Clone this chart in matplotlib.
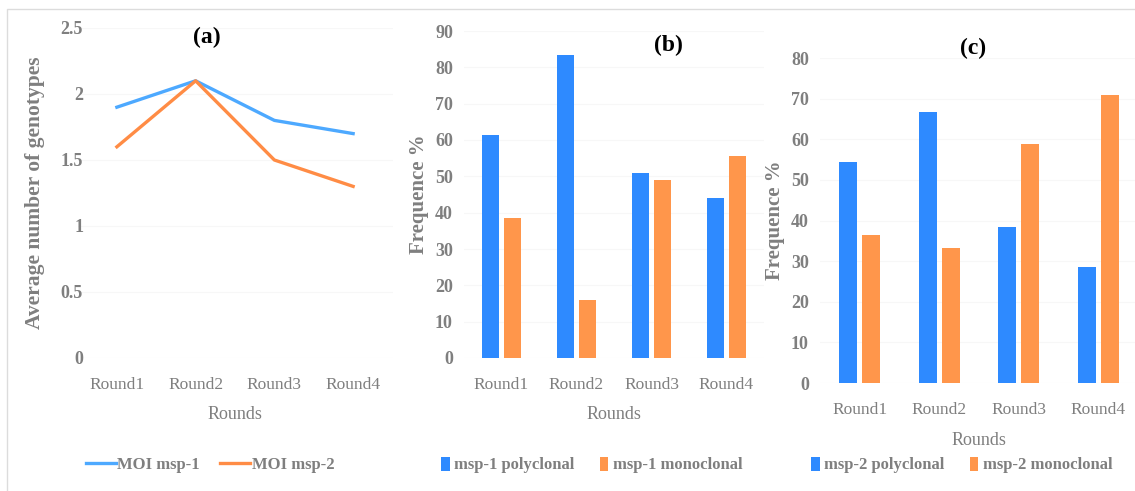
import matplotlib
matplotlib.use("Agg")
from matplotlib import pyplot as plt
from matplotlib.patches import Rectangle
import numpy as np

rounds = ["Round1", "Round2", "Round3", "Round4"]

# (a) average number of genotypes (MOI)
moi_msp1 = [1.9, 2.1, 1.8, 1.7]
moi_msp2 = [1.6, 2.1, 1.5, 1.3]

# (b) msp-1 frequencies
msp1_poly = [61.5, 83.3, 51.0, 44.0]
msp1_mono = [38.5, 16.0, 49.0, 55.7]

# (c) msp-2 frequencies
msp2_poly = [54.5, 66.7, 38.5, 28.6]
msp2_mono = [36.4, 33.3, 58.8, 71.0]

plt.rcParams['font.family'] = ['Liberation Serif', 'DejaVu Serif']
GRAY = '#7f7f7f'
BLUE_L = '#4da9ff'
ORANGE_L = '#ff8c45'
BLUE = '#2e8aff'
ORANGE = '#ff964b'

W, H = 1135, 491
fig = plt.figure(figsize=(W / 100, H / 100), dpi=100)

# light frame round the whole figure
fig.patches.append(Rectangle((7 / W, -0.05), 1.2, (H - 9) / H + 0.05,
                             transform=fig.transFigure, fill=False,
                             edgecolor='#dcdcdc', lw=1.0))


def box(x0, x1, y0, ytop):
    # pixel box -> figure fraction
    return [x0 / W, (H - y0) / H, (x1 - x0) / W, (y0 - ytop) / H]


def style(ax, ymax, step, ylabel, tpad):
    ax.set_xlim(-0.5, 3.5)
    ax.set_ylim(0, ymax)
    ax.set_yticks(np.arange(0, ymax + step / 2, step))
    for s in ax.spines.values():
        s.set_visible(False)
    ax.tick_params(length=0)
    ax.tick_params(axis='x', labelsize=12.5, colors=GRAY, pad=14)
    ax.tick_params(axis='y', labelsize=13, colors=GRAY, pad=tpad)
    for lab in ax.get_yticklabels():
        lab.set_fontweight('bold')
    ax.yaxis.grid(True, color='#f7f7f7', lw=0.8)
    ax.set_axisbelow(True)
    ax.set_xticks(range(len(rounds)))
    ax.set_xticklabels(rounds)
    ax.set_xlabel("Rounds", fontsize=13, color=GRAY, labelpad=9)
    ax.set_ylabel(ylabel, fontsize=15, color=GRAY, fontweight='bold')
    ax.patch.set_alpha(0)


# ---- (a)
axa = fig.add_axes(box(77.5, 392.5, 358, 28))
x = np.arange(len(rounds))
axa.plot(x, moi_msp1, color=BLUE_L, lw=2.4, label="MOI msp-1")
axa.plot(x, moi_msp2, color=ORANGE_L, lw=2.4, label="MOI msp-2")
style(axa, 2.5, 0.5, "Average number of genotypes", -4)
axa.set_yticklabels(['0', '0.5', '1', '1.5', '2', '2.5'])
for lab in axa.get_yticklabels():
    lab.set_fontweight('bold')
axa.yaxis.label.set_fontsize(15.5)
axa.yaxis.labelpad = 11
axa.text(0.41, 0.97, "(a)", transform=axa.transAxes, ha='center', va='center',
         fontsize=17, fontweight='bold')
fig.legend(*axa.get_legend_handles_labels(), loc='center',
           bbox_to_anchor=(210 / W, 26 / H), ncol=2, frameon=False,
           handlelength=1.8, handletextpad=0.1, columnspacing=1.2,
           prop={'size': 12, 'weight': 'bold'}, labelcolor=GRAY)

bw = 0.225
off = 0.145

# ---- (b)
axb = fig.add_axes(box(464, 764, 358, 31))
axb.bar(x - off, msp1_poly, bw, color=BLUE, label="msp-1 polyclonal")
axb.bar(x + off, msp1_mono, bw, color=ORANGE, label="msp-1 monoclonal")
style(axb, 90, 10, "Frequence %", 8)
axb.yaxis.labelpad = 4
axb.text(0.68, 0.957, "(b)", transform=axb.transAxes, ha='center', va='center',
         fontsize=17, fontweight='bold')
fig.legend(*axb.get_legend_handles_labels(), loc='center',
           bbox_to_anchor=(592 / W, 26 / H), ncol=2, frameon=False,
           handlelength=0.5, handleheight=0.9, handletextpad=0.3,
           columnspacing=1.5, prop={'size': 12, 'weight': 'bold'},
           labelcolor=GRAY)

# ---- (c)
axc = fig.add_axes(box(820, 1138, 383, 58))
axc.bar(x - off, msp2_poly, bw, color=BLUE, label="msp-2 polyclonal")
axc.bar(x + off, msp2_mono, bw, color=ORANGE, label="msp-2 monoclonal")
style(axc, 80, 10, "Frequence %", 8)
axc.yaxis.labelpad = 4
axc.xaxis.labelpad = 10
axc.text(0.48, 1.03, "(c)", transform=axc.transAxes, ha='center', va='center',
         fontsize=17, fontweight='bold')
fig.legend(*axc.get_legend_handles_labels(), loc='center',
           bbox_to_anchor=(962 / W, 26 / H), ncol=2, frameon=False,
           handlelength=0.5, handleheight=0.9, handletextpad=0.3,
           columnspacing=1.5, prop={'size': 12, 'weight': 'bold'},
           labelcolor=GRAY)

fig.savefig("out.png", dpi=100)
